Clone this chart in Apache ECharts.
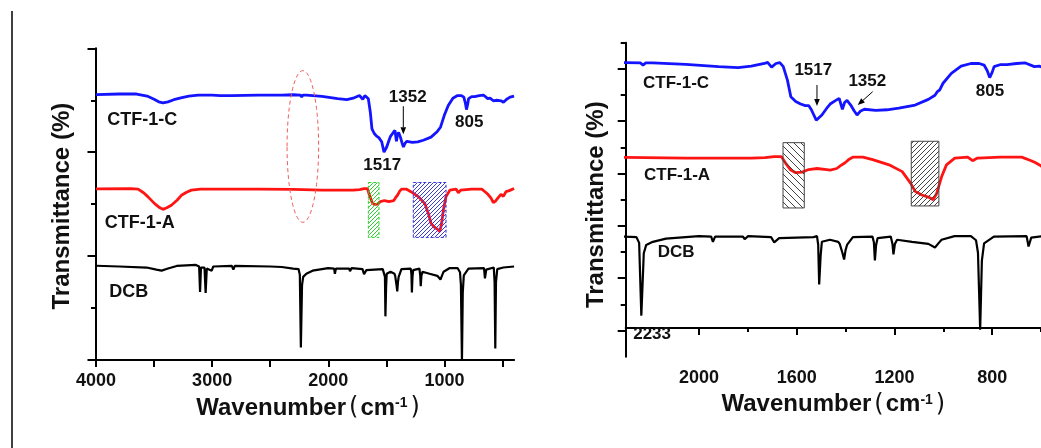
<!DOCTYPE html>
<html><head><meta charset="utf-8">
<script src="https://cdn.jsdelivr.net/npm/echarts@6/dist/echarts.min.js"></script>
<style>html,body{margin:0;padding:0;background:#fff}#c{width:1041px;height:448px}</style>
</head><body><div id="c"></div>
<script>
// ---------- axis ticks / labels ----------
const leftTicks = [4000, 3500, 3000, 2500, 2000, 1500, 1000, 500];
const leftTickLabels = [4000, 3000, 2000, 1000];
const rightTickLabels = [2000, 1600, 1200, 800];
const rightMinorTicks = [2200, 1800, 1400, 1000, 600];

// ---------- spectra: [wavenumber (cm-1), transmittance (a.u., offset)] ----------
const ctf1C = [[4000,5.11],[3800,5.12],[3650,5.12],[3560,5.08],[3500,5.02],[3460,4.97],[3423,4.95],[3380,4.97],[3330,5.01],[3260,5.05],[3200,5.08],[3120,5.10],[3000,5.10],[2930,5.09],[2921,5.06],[2905,5.09],[2860,5.09],[2849,5.07],[2835,5.09],[2600,5.10],[2400,5.10],[2303,5.106],[2240,5.10],[2229,5.06],[2218,5.10],[2189,5.10],[2054,5.074],[1920,5.03],[1840,5.01],[1786,5.04],[1732,5.09],[1719,5.11],[1703,5.02],[1685,5.09],[1669,5.106],[1655,5.03],[1638,4.77],[1624,4.45],[1604,4.36],[1584,4.31],[1565,4.28],[1551,4.28],[1540,4.20],[1520,4.00],[1497,4.10],[1477,4.23],[1463,4.31],[1440,4.38],[1426,4.42],[1413,4.21],[1404,4.34],[1394,4.38],[1379,4.29],[1365,4.18],[1353,4.10],[1340,4.17],[1323,4.21],[1276,4.19],[1230,4.20],[1182,4.23],[1115,4.29],[1061,4.40],[1034,4.48],[1024,4.55],[1020,4.52],[1015,4.58],[1001,4.71],[967,4.90],[927,5.04],[887,5.09],[853,5.09],[833,5.06],[820,4.95],[810,4.82],[800,4.92],[792,5.03],[765,5.07],[739,5.07],[700,5.09],[664,5.10],[627,5.03],[607,5.04],[579,4.99],[564,4.97],[550,5.00],[535,5.02],[510,4.99],[492,4.96],[464,5.02],[435,5.06],[400,5.08]];

const ctf1A = [[4000,3.295],[3700,3.30],[3638,3.29],[3590,3.22],[3552,3.14],[3495,3.01],[3450,2.93],[3423,2.90],[3390,2.93],[3351,2.98],[3300,3.08],[3265,3.17],[3220,3.23],[3179,3.27],[3100,3.29],[2930,3.29],[2921,3.27],[2910,3.29],[2600,3.29],[2303,3.286],[2054,3.27],[1900,3.27],[1786,3.27],[1730,3.28],[1692,3.30],[1663,3.30],[1645,3.17],[1624,3.04],[1604,2.99],[1578,3.00],[1551,3.05],[1517,3.07],[1477,3.05],[1463,3.04],[1436,3.07],[1422,3.12],[1402,3.18],[1385,3.25],[1369,3.29],[1329,3.29],[1289,3.24],[1222,3.14],[1168,3.01],[1134,2.79],[1115,2.63],[1088,2.56],[1061,2.52],[1041,2.47],[1027,2.59],[1007,2.91],[987,3.14],[953,3.27],[900,3.29],[880,3.22],[860,3.27],[766,3.29],[679,3.29],[640,3.22],[622,3.18],[600,3.12],[579,3.03],[560,3.06],[542,3.11],[513,3.19],[493,3.15],[470,3.24],[441,3.26],[400,3.30]];

const dcb = [[4000,1.814],[3800,1.80],[3564,1.78],[3480,1.74],[3435,1.72],[3380,1.76],[3305,1.81],[3140,1.83],[3112,1.80],[3104,1.31],[3096,1.78],[3082,1.81],[3066,1.78],[3056,1.29],[3046,1.76],[3033,1.79],[3004,1.72],[2990,1.80],[2975,1.81],[2830,1.81],[2817,1.74],[2805,1.81],[2500,1.80],[2400,1.79],[2303,1.76],[2256,1.75],[2245,1.64],[2236,0.24],[2226,1.44],[2216,1.60],[2189,1.66],[2135,1.72],[2001,1.77],[1950,1.76],[1943,1.66],[1934,1.76],[1820,1.76],[1813,1.71],[1799,1.77],[1705,1.75],[1692,1.65],[1672,1.73],[1531,1.75],[1517,1.77],[1512,1.60],[1508,0.84],[1502,1.40],[1497,1.66],[1464,1.70],[1430,1.66],[1424,1.62],[1413,1.45],[1406,1.32],[1400,1.50],[1394,1.60],[1370,1.75],[1290,1.76],[1284,1.65],[1280,1.30],[1275,1.60],[1269,1.73],[1215,1.76],[1208,1.62],[1204,1.42],[1198,1.62],[1189,1.70],[1128,1.66],[1061,1.62],[1034,1.55],[1020,1.63],[1007,1.70],[954,1.77],[887,1.77],[866,1.69],[858,1.45],[849,-0.03],[842,1.30],[833,1.63],[793,1.76],[659,1.77],[651,1.57],[648,1.55],[640,1.74],[632,1.77],[575,1.78],[568,1.50],[562,0.22],[556,1.50],[545,1.75],[493,1.78],[400,1.80]];

// ---------- annotations (data coordinates) ----------
const leftLabels = [
  {t:'CTF-1-C', x:3903, y:4.615, s:18, a:'left'},
  {t:'CTF-1-A', x:3925, y:2.628, s:18, a:'left'},
  {t:'DCB', x:3885, y:1.314, s:18, a:'left'},
  {t:'1517', x:1535, y:3.75, s:17, a:'center'},
  {t:'1352', x:1316, y:5.063, s:17, a:'center'},
  {t:'805', x:787, y:4.583, s:17, a:'center'}
];
const leftArrows = [{x0:1354, y0:4.885, x1:1354, y1:4.346}];
const leftBoxes = [
  {x0:1655, x1:1563, y0:2.36, y1:3.417, color:'#2fcf2f', dir:'/', size:4, dash:true},
  {x0:1268, x1:986, y0:2.36, y1:3.417, color:'#3a3ad6', dir:'/', size:4, dash:true}
];
const leftEllipse = {cx:2219, cy:4.11, rx:136, ry:1.46};

const rightLabels = [
  {t:'CTF-1-C', x:2229, y:4.71, s:17, a:'left'},
  {t:'CTF-1-A', x:2225, y:2.946, s:17, a:'left'},
  {t:'DCB', x:2169, y:1.452, s:17, a:'left'},
  {t:'1517', x:1532, y:4.965, s:17, a:'center'},
  {t:'1352', x:1311, y:4.753, s:17, a:'center'},
  {t:'805', x:809, y:4.561, s:17, a:'center'},
  {t:'2233', x:2192, y:-0.112, s:17, a:'center'}
];
const rightArrows = [
  {x0:1517, y0:4.677, x1:1517, y1:4.274},
  {x0:1289, y0:4.548, x1:1350, y1:4.292}
];
const rightBoxes = [
  {x0:1656, x1:1569, y0:2.311, y1:3.567, color:'#444', dir:'\\', size:7, dash:false},
  {x0:1131, x1:1018, y0:2.35, y1:3.594, color:'#444', dir:'/', size:5, dash:false}
];

// ---------- layout ----------
const F = '"Liberation Sans", Arial, sans-serif';
const LEFT_Y = [0, 6];
const RIGHT_Y = [-0.55, 5.49];
const rStep = (RIGHT_Y[1] - RIGHT_Y[0]) / 12;
const rightMajorY = [1,3,5,7,9,11].map(k => RIGHT_Y[0] + k * rStep);
const rightMinorY = [2,4,6,8,10,12].map(k => RIGHT_Y[0] + k * rStep);

function hatch(color, s, dir) {
  const c = document.createElement('canvas'); c.width = s; c.height = s;
  const g = c.getContext('2d'); g.strokeStyle = color; g.lineWidth = 1;
  g.beginPath();
  if (dir === '/') {
    g.moveTo(0, s); g.lineTo(s, 0);
    g.moveTo(-1, 1); g.lineTo(1, -1);
    g.moveTo(s - 1, s + 1); g.lineTo(s + 1, s - 1);
  } else {
    g.moveTo(0, 0); g.lineTo(s, s);
    g.moveTo(-1, s - 1); g.lineTo(1, s + 1);
    g.moveTo(s - 1, -1); g.lineTo(s + 1, 1);
  }
  g.stroke();
  return {image: c, repeat: 'repeat'};
}

function makeRender(labels, arrows, boxes, ellipse) {
  return function (params, api) {
    const ch = [];
    boxes.forEach(b => {
      const p1 = api.coord([b.x0, b.y1]), p2 = api.coord([b.x1, b.y0]);
      ch.push({type:'rect', shape:{x:Math.min(p1[0],p2[0]), y:Math.min(p1[1],p2[1]), width:Math.abs(p2[0]-p1[0]), height:Math.abs(p2[1]-p1[1])},
        style:{fill: hatch(b.color, b.size, b.dir), stroke: b.color, lineWidth: 1, lineDash: b.dash ? [3,2] : null}});
    });
    if (ellipse) {
      const pts = [];
      for (let i = 0; i <= 72; i++) {
        const t = i / 72 * Math.PI * 2;
        pts.push(api.coord([ellipse.cx + ellipse.rx * Math.cos(t), ellipse.cy + ellipse.ry * Math.sin(t)]));
      }
      ch.push({type:'polyline', shape:{points: pts}, style:{fill:'none', stroke:'#f25c5c', lineWidth:1, lineDash:[4,3]}});
    }
    arrows.forEach(a => {
      const p0 = api.coord([a.x0, a.y0]), p1 = api.coord([a.x1, a.y1]);
      const dx = p1[0]-p0[0], dy = p1[1]-p0[1], L = Math.hypot(dx, dy);
      const ux = dx/L, uy = dy/L, hl = 7, hw = 2.8;
      const bx = p1[0]-ux*hl, by = p1[1]-uy*hl;
      ch.push({type:'line', shape:{x1:p0[0], y1:p0[1], x2:bx, y2:by}, style:{stroke:'#000', lineWidth:1}});
      ch.push({type:'polygon', shape:{points:[[p1[0],p1[1]],[bx-uy*hw, by+ux*hw],[bx+uy*hw, by-ux*hw]]}, style:{fill:'#000'}});
    });
    labels.forEach(l => {
      const p = api.coord([l.x, l.y]);
      ch.push({type:'text', x:p[0], y:p[1], style:{text:l.t, fill:'#111', font:'bold ' + l.s + 'px ' + F, align:l.a, verticalAlign:'middle'}});
    });
    return {type:'group', children: ch};
  };
}

const xName = '{t|Wavenumber}{p|(}{t|cm}{s|-1}{p|)}';
function xNameStyle(pad) {
  return {padding: pad, rich:{
    t:{fontSize:24, fontWeight:'bold', fontFamily:F, color:'#111'},
    p:{fontSize:24, fontWeight:'normal', fontFamily:'"DejaVu Sans"', color:'#111', padding:[0,2,0,3]},
    s:{fontSize:14, fontWeight:'bold', fontFamily:F, color:'#111', verticalAlign:'top'}
  }};
}
const axisLineStyle = {show:true, lineStyle:{color:'#000', width:2}};
const tickLab = {fontSize:18, fontWeight:'bold', fontFamily:F, color:'#111', margin:12, formatter: v => String(v)};

const chart = echarts.init(document.getElementById('c'), null, {renderer:'canvas'});
chart.setOption({
  animation:false,
  backgroundColor:'#fff',
  graphic:[{type:'line', shape:{x1:12, y1:11, x2:12, y2:448}, style:{stroke:'#000', lineWidth:1.5}}],
  grid:[
    {left:96, top:48.3, width:418.1, height:311.7},
    {left:625.7, top:42.7, width:422.1, height:314}
  ],
  xAxis:[
    {gridIndex:0, type:'value', inverse:true, min:400, max:4000, position:'bottom',
     axisLine:axisLineStyle, splitLine:{show:false},
     axisTick:{show:true, customValues:leftTicks, length:7, lineStyle:{width:2, color:'#000'}},
     axisLabel:Object.assign({customValues:leftTickLabels}, tickLab),
     name:xName, nameLocation:'middle', nameGap:36, nameTextStyle:xNameStyle([0,0,0,8])},
    {gridIndex:1, type:'value', inverse:true, min:600, max:2300, position:'bottom',
     axisLine:axisLineStyle, splitLine:{show:false},
     axisTick:{show:true, customValues:rightTickLabels, length:7, lineStyle:{width:2, color:'#000'}},
     axisLabel:Object.assign({customValues:rightTickLabels}, tickLab),
     name:xName, nameLocation:'middle', nameGap:36, nameTextStyle:xNameStyle([0,0,0,2])},
    {gridIndex:1, type:'value', inverse:true, min:600, max:2300, position:'bottom', offset:0,
     axisLine:{show:false}, splitLine:{show:false}, axisLabel:{show:false},
     axisTick:{show:true, customValues:rightMinorTicks, length:4, lineStyle:{width:2, color:'#000'}}}
  ],
  yAxis:[
    {gridIndex:0, type:'value', min:LEFT_Y[0], max:LEFT_Y[1], interval:2, position:'left',
     axisLine:axisLineStyle, splitLine:{show:false}, axisLabel:{show:false},
     axisTick:{show:true, length:8.5, lineStyle:{width:2, color:'#000'}},
     minorTick:{show:true, splitNumber:2, length:5, lineStyle:{width:2, color:'#000'}},
     name:'Transmittance (%)', nameLocation:'middle', nameGap:22,
     nameTextStyle:{fontSize:24, fontWeight:'bold', fontFamily:F, color:'#111', padding:[0,4,0,0]}},
    {gridIndex:1, type:'value', min:RIGHT_Y[0], max:RIGHT_Y[1], position:'left',
     axisLine:axisLineStyle, splitLine:{show:false}, axisLabel:{show:false},
     axisTick:{show:true, customValues:rightMajorY, length:8, lineStyle:{width:2, color:'#000'}},
     name:'Transmittance (%)', nameLocation:'middle', nameGap:17,
     nameTextStyle:{fontSize:24, fontWeight:'bold', fontFamily:F, color:'#111', padding:[0,10,0,0]}},
    {gridIndex:1, type:'value', min:RIGHT_Y[0], max:RIGHT_Y[1], position:'left', offset:0,
     axisLine:{show:false}, splitLine:{show:false}, axisLabel:{show:false},
     axisTick:{show:true, customValues:rightMinorY, length:5, lineStyle:{width:2, color:'#000'}}}
  ],
  series:[
    {type:'line', xAxisIndex:0, yAxisIndex:0, data:ctf1C, symbol:'none', lineStyle:{color:'#1414ff', width:2.8}},
    {type:'line', xAxisIndex:0, yAxisIndex:0, data:ctf1A, symbol:'none', lineStyle:{color:'#ff1414', width:2.8}},
    {type:'line', xAxisIndex:0, yAxisIndex:0, data:dcb, symbol:'none', lineStyle:{color:'#000', width:2.2}},
    {type:'line', xAxisIndex:1, yAxisIndex:1, data:ctf1C, symbol:'none', lineStyle:{color:'#1414ff', width:2.8}},
    {type:'line', xAxisIndex:1, yAxisIndex:1, data:ctf1A, symbol:'none', lineStyle:{color:'#ff1414', width:2.8}},
    {type:'line', xAxisIndex:1, yAxisIndex:1, data:dcb, symbol:'none', lineStyle:{color:'#000', width:2.2}},
    {type:'custom', xAxisIndex:0, yAxisIndex:0, data:[[0,0]], silent:true, z:10,
     renderItem: makeRender(leftLabels, leftArrows, leftBoxes, leftEllipse)},
    {type:'custom', xAxisIndex:1, yAxisIndex:1, data:[[0,0]], silent:true, z:10,
     renderItem: makeRender(rightLabels, rightArrows, rightBoxes, null)}
  ]
});
</script>
</body></html>
